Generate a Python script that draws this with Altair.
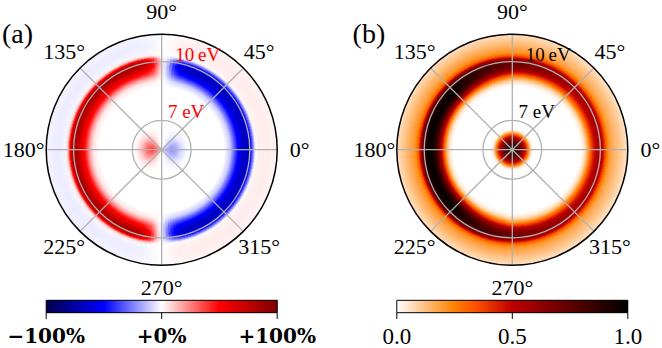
import numpy as np
import pandas as pd
import altair as alt

# ---------------- data ----------------
E_MIN, E_MAX = 5.5, 11.4                      # radial axis (eV)
GRID_E = [7.0, 10.0]
THETA_TICKS = [0, 45, 90, 135, 180, 225, 270, 315]
THETA_LABELS = ["0°", "45°", "90°", "135°", "180°", "225°", "270°", "315°"]
RING_LABELS = ["7 eV", "10\u2009eV"]

# panel (a): signed asymmetry
A_CENTER_E = [5.5, 5.75, 6.0, 6.25, 6.5, 6.75, 6.9]
A_CENTER_LEFT = [0.12, 0.3, 0.38, 0.3, 0.14, 0.04, 0.0]
A_CENTER_RIGHT = [-0.05, -0.15, -0.22, -0.17, -0.07, -0.02, 0.0]
A_CENTER_OFFAXIS = [0, 20, 40, 60, 80, 90]          # deg away from horizontal axis
A_CENTER_WEIGHT = [1.0, 0.85, 0.5, 0.18, 0.0, 0.0]

A_RING_E = [8.7, 9.0, 9.2, 9.4, 9.6, 9.8, 10.0, 10.15, 10.3, 10.45, 10.7, 11.0, 11.4]
A_RING_LEFT = [0.0, 0.05, 0.2, 0.45, 0.6, 0.8, 0.85, 0.65, 0.1, -0.02, -0.035, -0.035, -0.02]
A_RING_RIGHT = [0.0, -0.1, -0.3, -0.5, -0.62, -0.68, -0.6, -0.3, 0.01, 0.03, 0.035, 0.035, 0.02]
A_RING_FROMVERT = [0, 3, 7, 12, 20, 90]             # deg away from vertical axis
A_RING_LEFT_W = [0.0, 0.25, 0.65, 0.9, 1.0, 1.0]
A_RING_RIGHT_W = [0.0, 0.2, 0.6, 0.9, 1.0, 1.0]

# panel (b): normalised intensity
B_CENTER_E = [5.5, 5.75, 6.0, 6.2, 6.35, 6.45, 6.55]
B_CENTER_VAL = [0.95, 0.87, 0.68, 0.45, 0.22, 0.07, 0.0]
B_RING_E = [8.3, 8.5, 8.7, 8.85, 9.0, 9.2, 9.4, 9.6, 9.8, 10.0, 10.15, 10.3, 10.45, 10.7, 11.0, 11.4]
B_RING_THETA = [0, 45, 90, 135, 180]
B_RING_0 = [0, 0, 0, 0, 0, 0.05, 0.2, 0.4, 0.53, 0.55, 0.47, 0.3, 0.2, 0.15, 0.11, 0.05]
B_RING_45 = [0, 0, 0, 0, 0.02, 0.1, 0.28, 0.45, 0.55, 0.57, 0.48, 0.3, 0.2, 0.15, 0.11, 0.05]
B_RING_90 = [0, 0, 0, 0.02, 0.07, 0.2, 0.42, 0.62, 0.72, 0.7, 0.55, 0.33, 0.22, 0.17, 0.12, 0.06]
B_RING_135 = [0, 0, 0.03, 0.12, 0.3, 0.6, 0.85, 0.97, 0.97, 0.88, 0.62, 0.33, 0.22, 0.17, 0.12, 0.06]
B_RING_180 = [0, 0, 0.04, 0.15, 0.35, 0.65, 0.88, 0.97, 0.97, 0.85, 0.6, 0.32, 0.22, 0.17, 0.12, 0.06]

A_TICKS = [-1.0, 0.0, 1.0]
A_TICK_LABELS = ["\u2212100%", "+0%", "+100%"]
B_TICKS = [0.0, 0.5, 1.0]
B_TICK_LABELS = ["0.0", "0.5", "1.0"]

SEISMIC_STOPS = [-1, -0.5, 0, 0.5, 1]
SEISMIC_COLORS = ["#00004c", "#0000ff", "#ffffff", "#ff0000", "#7f0000"]
HEAT_STOPS = [0, 0.25, 1 / 3, 0.5, 1]
HEAT_COLORS = ["#ffffff", "#ff8000", "#ff5500", "#bf0000", "#000000"]

SERIF = "Liberation Serif, Times New Roman, serif"

# ---------------- layout (pixels) ----------------
PANEL_W, PANEL_H = 331, 348
R_PX = 115.5
K = R_PX / (E_MAX - E_MIN)          # px per radial unit
CY = 147.7
CX_A, CX_B = 161.7, 181.3
LABEL_R_PX = 138
CB_TOP, CB_BOT, TICK_BOT, CB_LABEL_Y = 298.3, 310.7, 317.0, 335.0

# ---------------- build cells ----------------
D_TH, D_E = 2.0, 0.05
th_lo = np.arange(0, 360, D_TH)
e_lo = np.arange(E_MIN, E_MAX - 1e-9, D_E)
TH, EE = np.meshgrid(th_lo, e_lo)
TH, EE = TH.ravel(), EE.ravel()
thc, ec = TH + D_TH / 2, EE + D_E / 2
thw = (thc + 180) % 360 - 180
absw = np.abs(thw)
right = absw < 90
off_h = np.where(right, absw, 180 - absw)
from_v = 90 - off_h

cw = np.interp(off_h, A_CENTER_OFFAXIS, A_CENTER_WEIGHT)
va = np.where(
    right,
    np.interp(ec, A_CENTER_E, A_CENTER_RIGHT, right=0) * cw
    + np.interp(ec, A_RING_E, A_RING_RIGHT, left=0) * np.interp(from_v, A_RING_FROMVERT, A_RING_RIGHT_W),
    np.interp(ec, A_CENTER_E, A_CENTER_LEFT, right=0) * cw
    + np.interp(ec, A_RING_E, A_RING_LEFT, left=0) * np.interp(from_v, A_RING_FROMVERT, A_RING_LEFT_W),
)

profiles = [B_RING_0, B_RING_45, B_RING_90, B_RING_135, B_RING_180]
P = np.array([np.interp(ec, B_RING_E, p, left=0) for p in profiles])
j = np.clip((absw // 45).astype(int), 0, 3)
f = (absw - np.array(B_RING_THETA)[j]) / 45.0
idx = np.arange(len(absw))
vb = P[j, idx] * (1 - f) + P[j + 1, idx] * f + np.interp(ec, B_CENTER_E, B_CENTER_VAL, right=0)

# cells overlap their outer / next neighbour slightly so that no seams show
t1 = (90 - (TH + D_TH)) % 360
base = pd.DataFrame({"t1": t1, "t2": t1 + D_TH * 1.6,
                     "r1": EE, "r2": np.minimum(EE + D_E * 1.8, E_MAX)}).round(3)
cells_a = base.assign(v=np.round(va, 3))
cells_a = cells_a[cells_a.v.abs() > 0.006]
cells_b = base.assign(v=np.round(vb, 3))
cells_b = cells_b[cells_b.v > 0.005]


def panel(cells, cx, stops, colors, vmin, vmax, ticks, tick_labels, tick_font, ring_color, letter):
    xs = alt.Scale(domain=[-cx / K, (PANEL_W - cx) / K], nice=False, zero=False)
    ys = alt.Scale(domain=[(CY - PANEL_H) / K, CY / K], nice=False, zero=False)
    ts = alt.Scale(domain=[0, 360], range=[0, 2 * np.pi], nice=False, zero=False)
    rs = alt.Scale(type="linear", domain=[E_MIN, E_MAX], range=[0, R_PX], nice=False, zero=False)
    cs = alt.Scale(domain=stops, range=colors, interpolate="rgb", clamp=True)
    X0 = alt.XDatum(0, type="quantitative", scale=xs, axis=None)
    Y0 = alt.YDatum(0, type="quantitative", scale=ys, axis=None)
    py = lambda ypx: (CY - ypx) / K

    heat = alt.Chart(cells).mark_arc().encode(
        x=X0, y=Y0,
        theta=alt.Theta("t1:Q", scale=ts, stack=None), theta2="t2:Q",
        radius=alt.Radius("r1:Q", scale=rs), radius2="r2:Q",
        fill=alt.Fill("v:Q", scale=cs, legend=None),
    )
    circ_df = pd.DataFrame({"E": GRID_E, "t1": 0, "t2": 360})
    circles = alt.Chart(circ_df).mark_arc(filled=False, stroke="#b0b0b0", strokeWidth=1.3).encode(
        x=X0, y=Y0,
        theta=alt.Theta("t1:Q", scale=ts, stack=None), theta2="t2:Q",
        radius=alt.Radius("E:Q", scale=rs),
    )
    ang = np.deg2rad(THETA_TICKS)
    R = E_MAX - E_MIN
    spoke_df = pd.DataFrame({"x0": 0.0, "y0": 0.0, "x1": R * np.cos(ang), "y1": R * np.sin(ang)})
    spokes = alt.Chart(spoke_df).mark_rule(color="#b0b0b0", strokeWidth=1.3).encode(
        x=alt.X("x0:Q", scale=xs, axis=None), y=alt.Y("y0:Q", scale=ys, axis=None),
        x2="x1:Q", y2="y1:Q",
    )
    outer = alt.Chart(pd.DataFrame({"E": [E_MAX], "t1": 0, "t2": 360})).mark_arc(
        filled=False, stroke="black", strokeWidth=1.5).encode(
        x=X0, y=Y0,
        theta=alt.Theta("t1:Q", scale=ts, stack=None), theta2="t2:Q",
        radius=alt.Radius("E:Q", scale=rs),
    )
    LR = LABEL_R_PX / K
    lab_df = pd.DataFrame({"x": LR * np.cos(ang), "y": LR * np.sin(ang), "t": THETA_LABELS})
    ang_labels = alt.Chart(lab_df).mark_text(font=SERIF, fontSize=22, color="black",
                                             align="center", baseline="middle").encode(
        x=alt.X("x:Q", scale=xs, axis=None), y=alt.Y("y:Q", scale=ys, axis=None), text="t:N")
    ring_df = pd.DataFrame({"x": [24.4 / K, 36.0 / K], "y": [37.7 / K, 94.4 / K], "t": RING_LABELS})
    ring_labels = alt.Chart(ring_df).mark_text(font=SERIF, fontSize=19, color=ring_color,
                                               align="center", baseline="middle").encode(
        x=alt.X("x:Q", scale=xs, axis=None), y=alt.Y("y:Q", scale=ys, axis=None), text="t:N")
    let_df = pd.DataFrame({"x": [-159.7 / K], "y": [114.7 / K], "t": [letter]})
    letter_t = alt.Chart(let_df).mark_text(font=SERIF, fontSize=28, color="black",
                                           align="left", baseline="middle").encode(
        x=alt.X("x:Q", scale=xs, axis=None), y=alt.Y("y:Q", scale=ys, axis=None), text="t:N")

    # colorbar
    n = 200
    edges = np.linspace(vmin, vmax, n + 1)
    step = edges[1] - edges[0]
    tox = lambda v: R * (2 * (np.asarray(v) - vmin) / (vmax - vmin) - 1)
    cb_df = pd.DataFrame({"x0": tox(edges[:-1]), "x1": tox(np.minimum(edges[1:] + step, vmax)),
                          "v": (edges[:-1] + edges[1:]) / 2, "y0": py(CB_TOP), "y1": py(CB_BOT)})
    cbar = alt.Chart(cb_df).mark_rect().encode(
        x=alt.X("x0:Q", scale=xs, axis=None), x2="x1:Q",
        y=alt.Y("y0:Q", scale=ys, axis=None), y2="y1:Q",
        fill=alt.Fill("v:Q", scale=cs, legend=None),
    )
    box = alt.Chart(pd.DataFrame({"x0": [-R], "x1": [R], "y0": [py(CB_TOP)], "y1": [py(CB_BOT)]})).mark_rect(
        filled=False, stroke="black", strokeWidth=1).encode(
        x=alt.X("x0:Q", scale=xs, axis=None), x2="x1:Q",
        y=alt.Y("y0:Q", scale=ys, axis=None), y2="y1:Q")
    tk_df = pd.DataFrame({"x": tox(ticks), "y0": py(CB_BOT), "y1": py(TICK_BOT),
                          "ly": py(CB_LABEL_Y), "t": tick_labels})
    tk = alt.Chart(tk_df).mark_rule(color="black", strokeWidth=1).encode(
        x=alt.X("x:Q", scale=xs, axis=None), y=alt.Y("y0:Q", scale=ys, axis=None), y2="y1:Q")
    tkl = alt.Chart(tk_df).mark_text(align="center", baseline="middle", color="black", **tick_font).encode(
        x=alt.X("x:Q", scale=xs, axis=None), y=alt.Y("ly:Q", scale=ys, axis=None), text="t:N")

    return alt.layer(heat, circles, spokes, outer, ang_labels, ring_labels, letter_t,
                     cbar, box, tk, tkl).properties(width=PANEL_W, height=PANEL_H)


pa = panel(cells_a, CX_A, SEISMIC_STOPS, SEISMIC_COLORS, -1.0, 1.0, A_TICKS, A_TICK_LABELS,
           dict(font="DejaVu Serif", fontSize=20, fontWeight="bold"), "#ff0000", "(a)")
pb = panel(cells_b, CX_B, HEAT_STOPS, HEAT_COLORS, 0.0, 1.0, B_TICKS, B_TICK_LABELS,
           dict(font=SERIF, fontSize=23), "black", "(b)")

chart = alt.hconcat(pa, pb, spacing=0).resolve_scale(
    x="independent", y="independent", theta="independent", radius="independent",
    fill="independent",
).properties(padding=0, background="white").configure_view(stroke=None)

chart.save("out.html", embed_options={"renderer": "svg", "actions": False})
